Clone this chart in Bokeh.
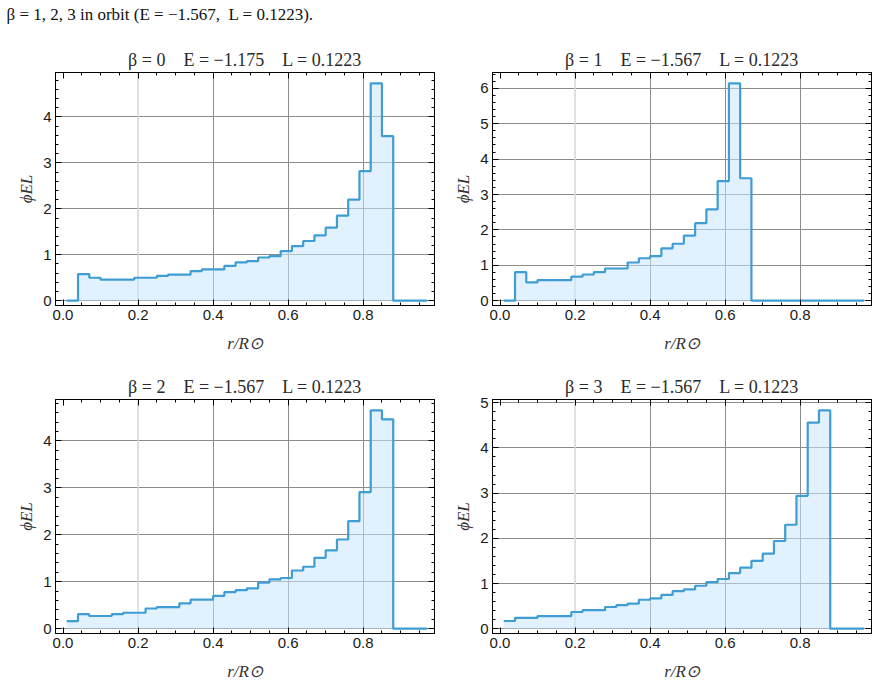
from bokeh.plotting import figure
from bokeh.models import (LinearAxis, SingleIntervalTicker, FixedTicker,
                          PrintfTickFormatter, Span, Range1d, Grid,
                          CustomLabelingPolicy)
from bokeh.layouts import column, row
from bokeh.embed import file_html
from bokeh.resources import INLINE
from bokeh.core.properties import value

# ---------------- data ----------------
SP = "\u2003"  # em space (LaTeX \quad)
CAPTION = "β = 1, 2, 3 in orbit (E = −1.567,\u2002L = 0.1223)."

BIN_EDGES = [0.01, 0.04, 0.07, 0.10, 0.13, 0.16, 0.19, 0.22, 0.25, 0.28, 0.31,
             0.34, 0.37, 0.40, 0.43, 0.46, 0.49, 0.52, 0.55, 0.58, 0.61, 0.64,
             0.67, 0.70, 0.73, 0.76, 0.79, 0.82, 0.85, 0.88, 0.91, 0.94, 0.97]

TITLES = [
    "β = 0" + SP + "E = −1.175" + SP + "L = 0.1223",
    "β = 1" + SP + "E = −1.567" + SP + "L = 0.1223",
    "β = 2" + SP + "E = −1.567" + SP + "L = 0.1223",
    "β = 3" + SP + "E = −1.567" + SP + "L = 0.1223",
]

phi_beta0 = [0.00, 0.58, 0.50, 0.46, 0.46, 0.46, 0.50, 0.50, 0.54, 0.57, 0.57,
             0.645, 0.68, 0.68, 0.76, 0.835, 0.86, 0.94, 0.97, 1.08, 1.19, 1.30,
             1.42, 1.59, 1.85, 2.20, 2.82, 4.73, 3.58, 0.00, 0.00, 0.00]

phi_beta1 = [0.00, 0.81, 0.52, 0.58, 0.58, 0.58, 0.68, 0.74, 0.81, 0.91, 0.91,
             1.08, 1.20, 1.26, 1.48, 1.61, 1.84, 2.19, 2.58, 3.38, 6.14, 3.46,
             0.00, 0.00, 0.00, 0.00, 0.00, 0.00, 0.00, 0.00, 0.00, 0.00]

phi_beta2 = [0.16, 0.31, 0.27, 0.27, 0.31, 0.34, 0.34, 0.43, 0.46, 0.46, 0.54,
             0.62, 0.62, 0.70, 0.78, 0.82, 0.86, 0.98, 1.05, 1.08, 1.24, 1.32,
             1.51, 1.67, 1.90, 2.29, 2.91, 4.65, 4.46, 0.00, 0.00, 0.00]

phi_beta3 = [0.17, 0.24, 0.24, 0.28, 0.28, 0.28, 0.37, 0.41, 0.41, 0.48, 0.52,
             0.555, 0.64, 0.67, 0.75, 0.83, 0.87, 0.95, 1.03, 1.10, 1.23, 1.35,
             1.50, 1.66, 1.94, 2.30, 2.94, 4.56, 4.83, 0.00, 0.00, 0.00]

SERIES = [phi_beta0, phi_beta1, phi_beta2, phi_beta3]

X_LABEL = "r/R⊙"
Y_LABEL = "ϕEL"

# ---------------- style ----------------
LINE_COLOR = "#3f9dd4"
FILL_COLOR = "#c9e5fb"
GRID_COLOR = "#8c8c8c"
SERIF = "Liberation Serif"
SANS = "Liberation Sans"

HIDE_ALL = "for (const i of Array.from(indices)) { indices.unset(i) }\nreturn indices"


def style_axis(ax, ticker, fmt, show_labels):
    ax.ticker = ticker
    ax.formatter = fmt
    ax.axis_line_color = "black"
    ax.major_tick_in = 6
    ax.major_tick_out = 0
    ax.minor_tick_in = 3
    ax.minor_tick_out = 0
    ax.major_tick_line_color = "black"
    ax.minor_tick_line_color = "black"
    if show_labels:
        ax.major_label_text_font = SANS
        ax.major_label_text_font_size = "15px"
        ax.major_label_text_color = "#1a1a1a"
        ax.major_label_standoff = 4
    else:
        ax.major_label_policy = CustomLabelingPolicy(code=HIDE_ALL)
        ax.major_label_text_font_size = "0px"
        ax.major_label_standoff = 0


def panel(title, vals, width, height, bl, br, bt, bb):
    ymax = max(vals)
    p = figure(width=width, height=height,
               x_range=Range1d(-0.02, 0.99),
               y_range=Range1d(-0.022 * ymax, 1.05 * ymax),
               output_backend="svg", toolbar_location=None,
               min_border_left=bl, min_border_right=br,
               min_border_top=bt, min_border_bottom=bb,
               x_axis_type=None, y_axis_type=None)
    p.outline_line_color = "black"
    p.outline_line_width = 1
    p.background_fill_color = "white"
    p.border_fill_color = "white"

    bx = LinearAxis(axis_label=X_LABEL)
    style_axis(bx, SingleIntervalTicker(interval=0.2, num_minor_ticks=4),
               PrintfTickFormatter(format="%.1f"), True)
    bx.axis_label_text_font = SERIF
    bx.axis_label_text_font_style = "italic"
    bx.axis_label_text_font_size = "17px"
    bx.axis_label_text_color = "#333333"
    bx.axis_label_standoff = 11
    p.add_layout(bx, "below")

    ly = LinearAxis(axis_label=Y_LABEL)
    style_axis(ly, SingleIntervalTicker(interval=1, num_minor_ticks=5),
               PrintfTickFormatter(format="%d"), True)
    ly.axis_label_text_font = SERIF
    ly.axis_label_text_font_style = "italic"
    ly.axis_label_text_font_size = "17px"
    ly.axis_label_text_color = "#333333"
    ly.axis_label_standoff = 4
    p.add_layout(ly, "left")

    ax_top = LinearAxis()
    style_axis(ax_top, SingleIntervalTicker(interval=0.2, num_minor_ticks=4),
               PrintfTickFormatter(format="%.1f"), False)
    p.add_layout(ax_top, "above")

    ax_right = LinearAxis()
    style_axis(ax_right, SingleIntervalTicker(interval=1, num_minor_ticks=5),
               PrintfTickFormatter(format="%d"), False)
    p.add_layout(ax_right, "right")

    # grid lines
    p.add_layout(Grid(dimension=0, ticker=FixedTicker(ticks=[0.4, 0.6, 0.8]),
                      grid_line_color=GRID_COLOR, grid_line_width=1))
    p.add_layout(Grid(dimension=1, ticker=SingleIntervalTicker(interval=1),
                      grid_line_color=GRID_COLOR, grid_line_width=1))
    p.add_layout(Span(location=0.2, dimension="height",
                      line_color="#d6d6d6", line_width=1.5, level="underlay"))

    ys = vals + [vals[-1]]
    p.varea_step(x=BIN_EDGES, y1=[0] * len(BIN_EDGES), y2=ys,
                 step_mode="after", fill_color=FILL_COLOR, fill_alpha=0.55)
    p.step(x=BIN_EDGES, y=ys, mode="after", line_color=LINE_COLOR,
           line_width=2.2)

    p.title.text = title
    p.title.align = "center"
    p.title.text_font = SERIF
    p.title.text_font_style = "normal"
    p.title.text_font_size = "18px"
    p.title.text_color = "#2a2a2a"
    p.title.standoff = 5
    return p


cap = figure(width=878, height=30, x_range=Range1d(0, 878), y_range=Range1d(0, 30),
             output_backend="svg", toolbar_location=None,
             x_axis_type=None, y_axis_type=None, min_border=0)
cap.outline_line_color = None
cap.grid.visible = False
cap.text(x=[6], y=[16], text=[CAPTION], text_font=value(SERIF),
         text_font_size="17px", text_baseline="middle", text_align="left",
         text_color="#111111")

p1 = panel(TITLES[0], SERIES[0], 439, 330, 55, 5, 42, 55)
p2 = panel(TITLES[1], SERIES[1], 439, 330, 53, 7, 42, 55)
p3 = panel(TITLES[2], SERIES[2], 439, 328, 55, 5, 39, 55)
p4 = panel(TITLES[3], SERIES[3], 439, 328, 53, 7, 39, 55)

layout = column(cap, row(p1, p2), row(p3, p4))

open("out.html", "w").write(file_html(layout, INLINE))
